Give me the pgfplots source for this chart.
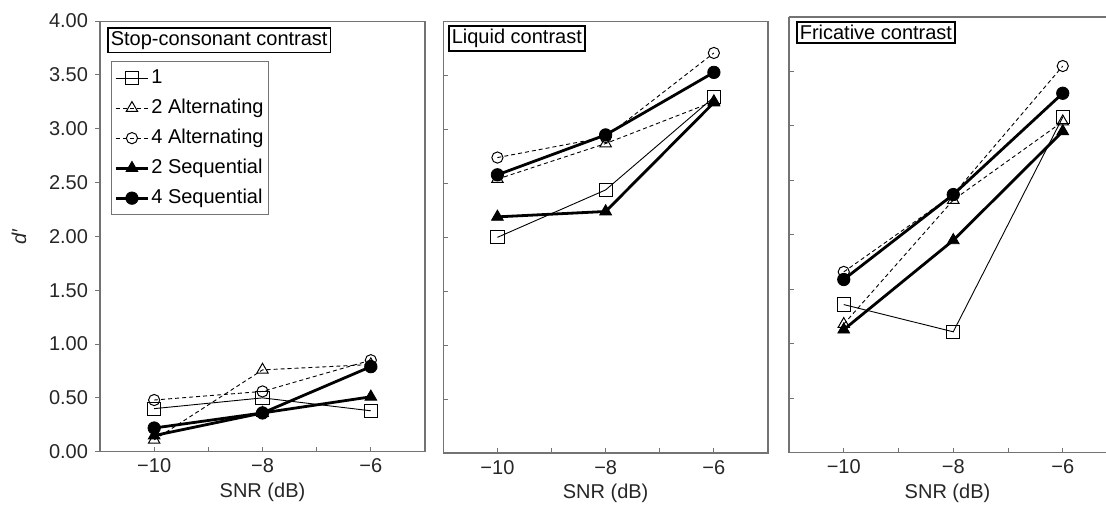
\documentclass[border=0pt]{standalone}
\usepackage{fontspec}
\setmainfont{Liberation Sans}
\usepackage{pgfplots}
\pgfplotsset{compat=1.18}
\definecolor{axgray}{gray}{0.45}
\tikzset{
  ttl/.style={draw=black, line width=0.8pt, anchor=north west, inner xsep=1.5pt, inner ysep=1.6pt, fill=white, font=\fontsize{10}{12}\selectfont},
}
\pgfplotsset{
  panel/.style={
    scale only axis,
    xmin=-11, xmax=-5, ymin=0, ymax=4,
    xtick={-10,-8,-6}, xticklabels={−10,−8,−6},
    minor xtick={-9,-7},
    ytick={0,0.5,1,1.5,2,2.5,3,3.5,4},
    xtick pos=left, ytick pos=left,
    tick align=inside,
    major tick length=2.5pt, minor tick length=2.5pt,
    axis line style={draw=axgray, line width=0.6pt},
    tick style={draw=axgray, line width=0.5pt},
    font=\fontsize{10}{12}\selectfont,
    tick label style={font=\fontsize{10}{12}\selectfont, text=black!85},
    xlabel={SNR (dB)},
    xlabel style={at={(axis description cs:0.5,0)}, anchor=center, yshift=-20.2pt, text=black!85},
    /pgf/number format/assume math mode=true,
    clip=false,
  },
  s1/.style={black, line width=0.45pt, mark=square, mark size=3.3pt, mark options={solid, line width=0.5pt}},
  s2a/.style={black, line width=0.45pt, dash pattern=on 2pt off 1.5pt, mark=triangle, mark size=3.3pt, mark options={solid, line width=0.5pt}},
  s4a/.style={black, line width=0.45pt, dash pattern=on 2pt off 1.5pt, mark=o, mark size=2.8pt, mark options={solid, line width=0.5pt}},
  s2s/.style={black, line width=1.4pt, mark=triangle*, mark size=3.4pt, mark options={solid, fill=black, line width=0.4pt}},
  s4s/.style={black, line width=1.4pt, mark=*, mark size=3.1pt, mark options={solid, fill=black, line width=0.4pt}},
}
\begin{document}
\begin{tikzpicture}
% Panel 1: Stop-consonant contrast
\begin{axis}[panel,
  at={(50pt,26.15pt)}, anchor=south west,
  width=162.5pt, height=215.3pt,
  ytick align=outside,
  yticklabel style={/pgf/number format/fixed, /pgf/number format/fixed zerofill, /pgf/number format/precision=2},
  legend cell align=left,
  legend image code/.code={\draw[mark repeat=2,mark phase=2,#1] plot coordinates {(0pt,0pt) (8pt,0pt) (16pt,0pt)};},
  legend style={at={(rel axis cs:0.034,0.907)}, anchor=north west, draw=axgray, line width=0.5pt,
    font=\fontsize{10}{12}\selectfont, row sep=3.5pt, inner xsep=1.5pt, inner ysep=2.5pt,
    nodes={inner xsep=1pt, inner ysep=1pt, text height=7.5pt, text depth=2pt}},
]
\addplot[s1] coordinates {(-10,0.40) (-8,0.50) (-6,0.38)};
\addlegendentry{1}
\addplot[s2a] coordinates {(-10,0.11) (-8,0.76) (-6,0.81)};
\addlegendentry{2 Alternating}
\addplot[s4a] coordinates {(-10,0.48) (-8,0.56) (-6,0.85)};
\addlegendentry{4 Alternating}
\addplot[s2s] coordinates {(-10,0.15) (-8,0.36) (-6,0.51)};
\addlegendentry{2 Sequential}
\addplot[s4s] coordinates {(-10,0.22) (-8,0.36) (-6,0.79)};
\addlegendentry{4 Sequential}
\node[ttl] at (rel axis cs:0.0215,0.986) {Stop-consonant contrast};
\end{axis}
% Panel 2: Liquid contrast
\begin{axis}[panel,
  at={(221.65pt,25.5pt)}, anchor=south west,
  width=162.35pt, height=215.65pt,
  yticklabels={},
]
\addplot[s1] coordinates {(-10,2.00) (-8,2.44) (-6,3.30)};
\addplot[s2a] coordinates {(-10,2.54) (-8,2.87) (-6,3.26)};
\addplot[s4a] coordinates {(-10,2.74) (-8,2.93) (-6,3.71)};
\addplot[s2s] coordinates {(-10,2.19) (-8,2.24) (-6,3.25)};
\addplot[s4s] coordinates {(-10,2.58) (-8,2.95) (-6,3.53)};
\node[ttl] at (rel axis cs:0.0145,0.992) {Liquid contrast};
\end{axis}
% Panel 3: Fricative contrast (cut at the right edge)
\begin{axis}[panel,
  at={(394.5pt,25.65pt)}, anchor=south west,
  width=158.5pt, height=217.85pt,
  xmax=-5.21,
  axis x line*=bottom, axis y line*=left,
  tick align=inside,
  yticklabels={},
]
\addplot[s1] coordinates {(-10,1.36) (-8,1.11) (-6,3.08)};
\addplot[s2a] coordinates {(-10,1.18) (-8,2.32) (-6,3.04)};
\addplot[s4a] coordinates {(-10,1.66) (-8,2.37) (-6,3.55)};
\addplot[s2s] coordinates {(-10,1.13) (-8,1.95) (-6,2.95)};
\addplot[s4s] coordinates {(-10,1.59) (-8,2.37) (-6,3.30)};
\draw[axgray, line width=0.6pt] (rel axis cs:0,1) -- (rel axis cs:1,1);
\node[ttl] at (rel axis cs:0.022,0.991) {Fricative contrast};
\end{axis}
\node[rotate=90, text=black!85, font=\fontsize{10}{12}\selectfont\itshape] at (9.5pt,133.5pt) {d′};
\pgfresetboundingbox
\path[use as bounding box] (0,0) rectangle (553pt,252pt);
\end{tikzpicture}
\end{document}
